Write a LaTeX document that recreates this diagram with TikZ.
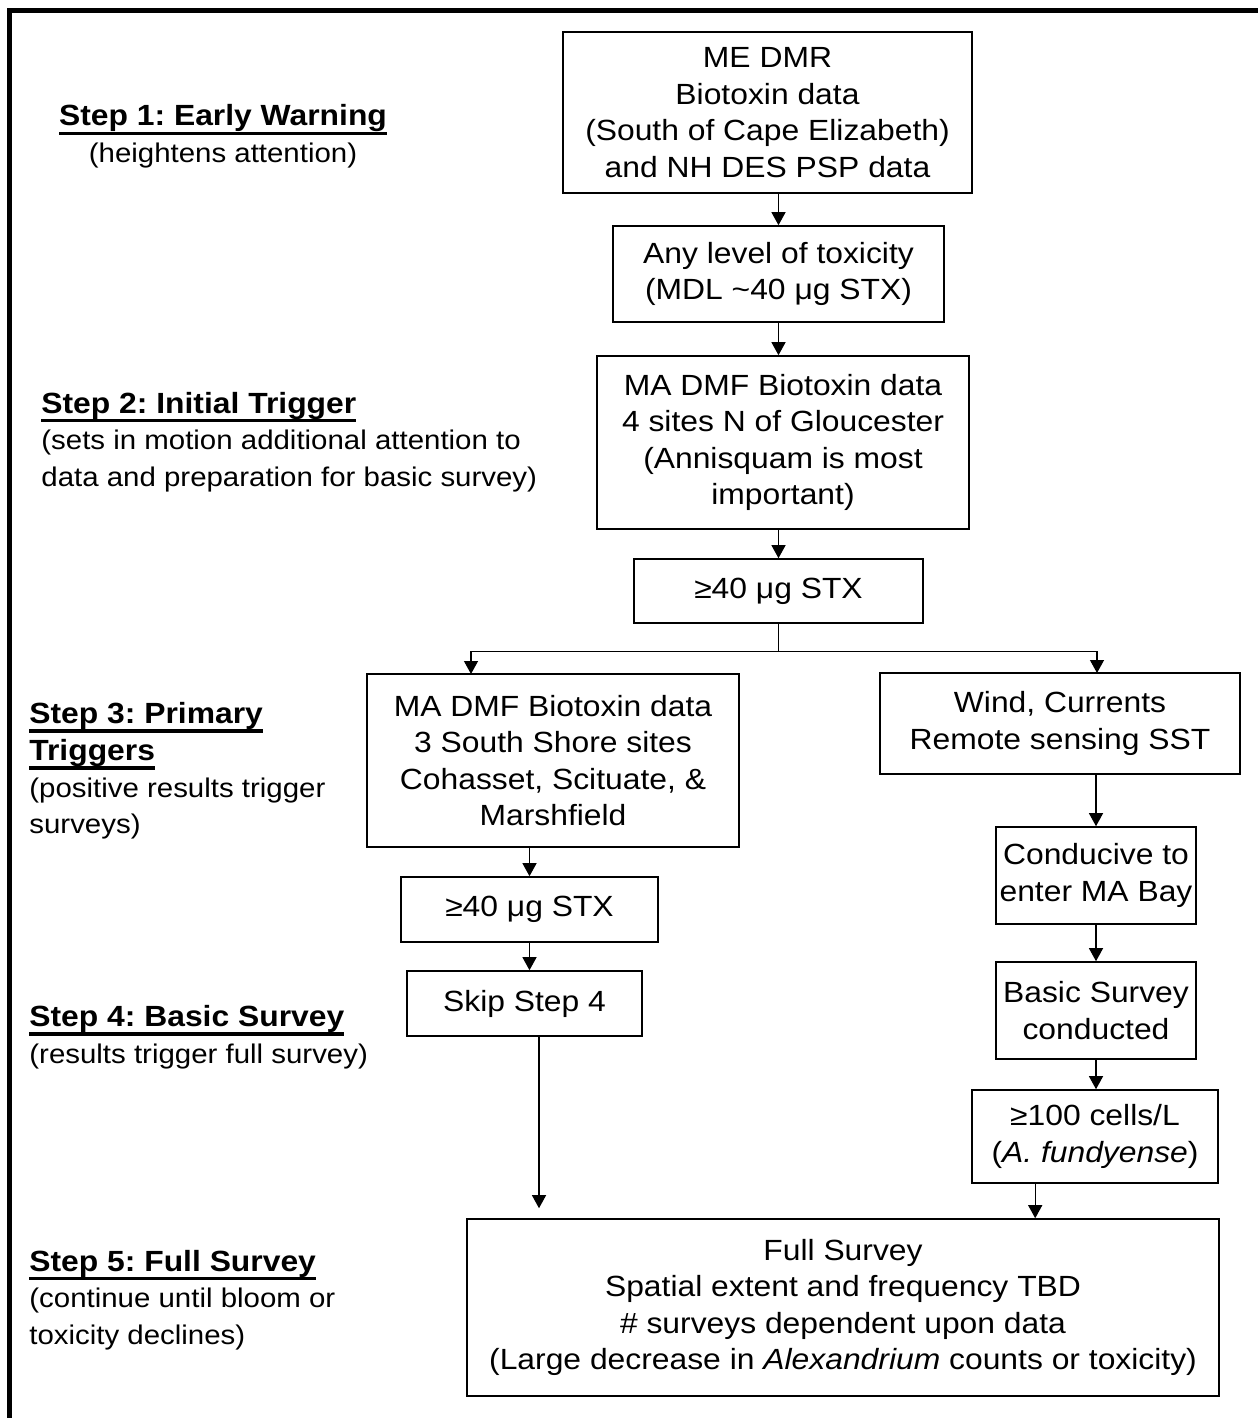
\documentclass[tikz,border=0pt]{standalone}
\usepackage{fontspec}
\setmainfont{Liberation Sans}[FakeStretch=1.09]
\usetikzlibrary{arrows.meta}
\frenchspacing
\newsavebox{\ulbox}
\newcommand{\stepul}[1]{\sbox{\ulbox}{#1}\rlap{\rule[-4.6pt]{\wd\ulbox}{1.8pt}}\usebox{\ulbox}}
\newcommand{\stephead}[1]{{\fontsize{14.6}{18.3}\selectfont\stepul{\textbf{#1}}}}
\begin{document}
\begin{tikzpicture}[x=0.5pt,y=-0.5pt,
  every node/.style={font=\fontsize{13.5}{18.3}\selectfont},
  box/.style={draw,line width=0.8pt,inner sep=0pt,align=center,font=\fontsize{14.6}{18.3}\selectfont},
  lab/.style={inner sep=0pt,align=left,anchor=west},
  arr/.style={-{Triangle[length=6.5pt,width=7pt]},line width=0.6pt}]
\useasboundingbox (0,0) rectangle (1258,1418);
\draw[line width=2.2pt] (9.5,1418)--(9.5,10.5)--(1258,10.5);
% steps on the left
\node[inner sep=0pt,align=center] (s1) at (223,136.5) {\stephead{Step 1: Early Warning}\\(heightens attention)};
\node[lab] (s2) at (41,442) {\stephead{Step 2: Initial Trigger}\\(sets in motion additional attention to\\data and preparation for basic survey)};
\node[lab] (s3) at (29,771) {\stephead{Step 3: Primary}\\\stephead{Triggers}\\(positive results trigger\\surveys)};
\node[lab] (s4) at (29,1037) {\stephead{Step 4: Basic Survey}\\(results trigger full survey)};
\node[lab] (s5) at (29,1300) {\stephead{Step 5: Full Survey}\\(continue until bloom or\\toxicity declines)};
% boxes
\node[box,minimum width=204.5pt,minimum height=80.5pt] (dmr) at (767.5,112.5) {ME DMR\\Biotoxin data\\(South of Cape Elizabeth)\\and NH DES PSP data};
\node[box,minimum width=165.5pt,minimum height=48pt] (any) at (778.5,274) {Any level of toxicity\\(MDL \textasciitilde40 μg STX)};
\node[box,minimum width=186pt,minimum height=86.5pt] (dmf) at (783,442.5) {MA DMF Biotoxin data\\4 sites N of Gloucester\\(Annisquam is most\\important)};
\node[box,minimum width=144.5pt,minimum height=32pt] (stx) at (778.5,591) {≥40 μg STX};
\node[box,minimum width=186pt,minimum height=86.5pt] (sss) at (553,760.5) {MA DMF Biotoxin data\\3 South Shore sites\\Cohasset, Scituate, \&\\Marshfield};
\node[box,minimum width=180pt,minimum height=50.5pt] (wind) at (1060,723.5) {Wind, Currents\\Remote sensing SST};
\node[box,minimum width=100pt,minimum height=48.5pt] (cond) at (1096,875.5) {Conducive to\\enter MA Bay};
\node[box,minimum width=100pt,minimum height=48.5pt] (basic) at (1096,1010.5) {Basic Survey\\conducted};
\node[box,minimum width=123pt,minimum height=46.5pt] (cells) at (1095,1136.5) {≥100 cells/L\\(\textit{A. fundyense})};
\node[box,minimum width=128.5pt,minimum height=32.5pt] (stxl) at (529.5,909.5) {≥40 μg STX};
\node[box,minimum width=117.5pt,minimum height=32.5pt] (skip) at (524.5,1003.5) {Skip Step 4};
\node[box,minimum width=376pt,minimum height=88.5pt] (full) at (843,1307.5) {Full Survey\\Spatial extent and frequency TBD\\\# surveys dependent upon data\\(Large decrease in \textit{Alexandrium} counts or toxicity)};
% arrows
\draw[arr] (any.north |- dmr.south) -- (any.north);
\draw[arr] (any.south) -- (any.south |- dmf.north);
\draw[arr] (stx.north |- dmf.south) -- (stx.north);
\coordinate (split) at (778.5,651.5);
\coordinate (sssin) at (471,674);
\coordinate (windin) at (1097,673);
\draw[line width=0.6pt] (stx.south) -- (split);
\draw[arr] (split) -| (sssin);
\draw[arr] (split) -| (windin);
\draw[arr] (cond.north |- wind.south) -- (cond.north);
\draw[arr] (cond.south) -- (basic.north);
\draw[arr] (basic.south) -- (basic.south |- cells.north);
\coordinate (cellsout) at ([xshift=32pt]cells.south west);
\draw[arr] (cellsout) -- (cellsout |- full.north);
\draw[arr] (stxl.north |- sss.south) -- (stxl.north);
\draw[arr] (stxl.south) -- (stxl.south |- skip.north);
\coordinate (skipout) at ([xshift=7.25pt]skip.south);
\draw[arr,shorten >=5pt] (skipout) -- (skipout |- full.north);
\end{tikzpicture}
\end{document}
